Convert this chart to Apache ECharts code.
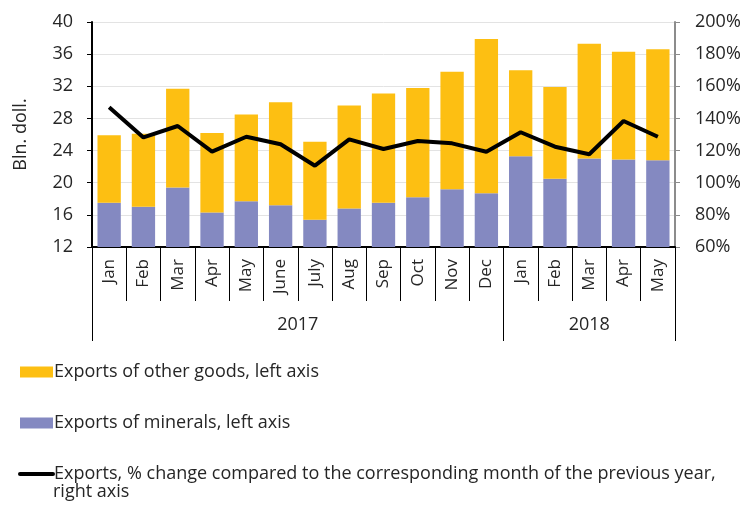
<!DOCTYPE html>
<html>
<head>
    <meta charset="utf-8">
    <title>Exports</title>
    <script src="https://cdn.jsdelivr.net/npm/echarts@6/dist/echarts.min.js"></script>
    <style>
        body { margin: 0; background: #fff; }
        #main { width: 746px; height: 506px; }
    </style>
</head>
<body>
<div id="main"></div>
<script type="text/javascript">
    var months = ["Jan", "Feb", "Mar", "Apr", "May", "June", "July", "Aug", "Sep", "Oct", "Nov", "Dec",
        "Jan", "Feb", "Mar", "Apr", "May"];
    var years = ["2017", "2018"];
    var yearBounds = [0, 12, 17];     // category index where each year starts / ends
    var yearCentres = [6, 14.5];

    var minerals = [17.5, 17.0, 19.4, 16.3, 17.7, 17.2, 15.4, 16.8, 17.5, 18.2, 19.2, 18.7,
        23.3, 20.5, 23.0, 22.9, 22.8];
    var otherGoods = [8.4, 9.1, 12.3, 9.9, 10.8, 12.8, 9.7, 12.8, 13.6, 13.6, 14.6, 19.2,
        10.7, 11.4, 14.3, 13.4, 13.8];
    var pctChange = [147, 128.2, 135.3, 119.3, 128.6, 123.9, 110.6, 127, 121, 126, 124.5, 119.3,
        131.4, 122.4, 117.7, 138.4, 128.6];

    var leftTicks = { min: 12, max: 40, interval: 4 };
    var rightTicks = { min: 60, max: 200, interval: 20 };

    var nameOther = 'Exports of other goods, left axis';
    var nameMin = 'Exports of minerals, left axis';
    var nameLine = 'Exports, % change compared to the corresponding month of the previous year, right axis';

    var font = 'Open Sans';
    var txt = '#262626';

    var myChart = echarts.init(document.getElementById('main'));
    myChart.setOption({
        animation: false,
        textStyle: { fontFamily: font },
        grid: { left: 92, right: 71, top: 22, bottom: 259 },
        legend: {
            orient: 'vertical',
            left: 13,
            top: 358,
            itemGap: 33,
            itemWidth: 33,
            itemHeight: 11,
            textStyle: { fontSize: 18, color: txt, padding: [0, 0, 0, -4] },
            formatter: function (name) {
                return name === nameLine ? 'Exports, % change compared to the corresponding month of the previous year,' : name;
            },
            data: [
                { name: nameOther, icon: 'rect' },
                { name: nameMin, icon: 'rect' },
                { name: nameLine, itemStyle: { opacity: 0 }, lineStyle: { width: 4, cap: 'round', color: '#000' } }
            ]
        },
        graphic: [{
            type: 'text', left: 53, top: 483,
            style: { text: 'right axis', fontSize: 18, fontFamily: font, fill: txt }
        }],
        xAxis: [{
            type: 'category',
            data: months,
            position: 'bottom',
            axisLine: { lineStyle: { color: '#000', width: 2 } },
            axisTick: { show: true, interval: 0, length: 54, lineStyle: { color: '#000', width: 1 } },
            axisLabel: { interval: 0, rotate: 90, fontSize: 17, color: txt, margin: 12 }
        }, {
            type: 'value',
            min: 0,
            max: 17,
            position: 'bottom',
            axisLine: { show: false },
            splitLine: { show: false },
            axisTick: { show: true, customValues: yearBounds, length: 94, lineStyle: { color: '#000', width: 1 } },
            axisLabel: {
                customValues: yearCentres, fontSize: 18, color: txt, margin: 69,
                formatter: function (v) { return v < yearBounds[1] ? years[0] : years[1]; }
            }
        }],
        yAxis: [{
            type: 'value',
            min: leftTicks.min, max: leftTicks.max, interval: leftTicks.interval,
            name: 'Bln. doll.',
            nameLocation: 'middle',
            nameGap: 62,
            nameTextStyle: { fontSize: 18, color: txt },
            axisLine: { show: true, lineStyle: { color: '#000', width: 2 } },
            axisTick: { show: true, length: 5, lineStyle: { color: '#000' } },
            axisLabel: { fontSize: 18, color: txt, margin: 19 },
            splitLine: { lineStyle: { color: '#e3e3e3', width: 1 } }
        }, {
            type: 'value',
            min: rightTicks.min, max: rightTicks.max, interval: rightTicks.interval,
            position: 'right',
            axisLine: { show: true, lineStyle: { color: '#8c8c8c', width: 2 } },
            axisTick: { show: true, length: 5, lineStyle: { color: '#8c8c8c' } },
            axisLabel: { fontSize: 18, color: txt, margin: 20, formatter: '{value}%' },
            splitLine: { show: false }
        }],
        series: [{
            name: nameMin, type: 'bar', stack: 'exp', data: minerals,
            barCategoryGap: '32%',
            itemStyle: { color: '#8489c1' }
        }, {
            name: nameOther, type: 'bar', stack: 'exp', data: otherGoods,
            itemStyle: { color: '#fdbf12' }
        }, {
            name: nameLine, type: 'line', yAxisIndex: 1, data: pctChange,
            symbol: 'none',
            lineStyle: { color: '#000', width: 4 },
            itemStyle: { color: '#000' }
        }]
    });
</script>
</body>
</html>
